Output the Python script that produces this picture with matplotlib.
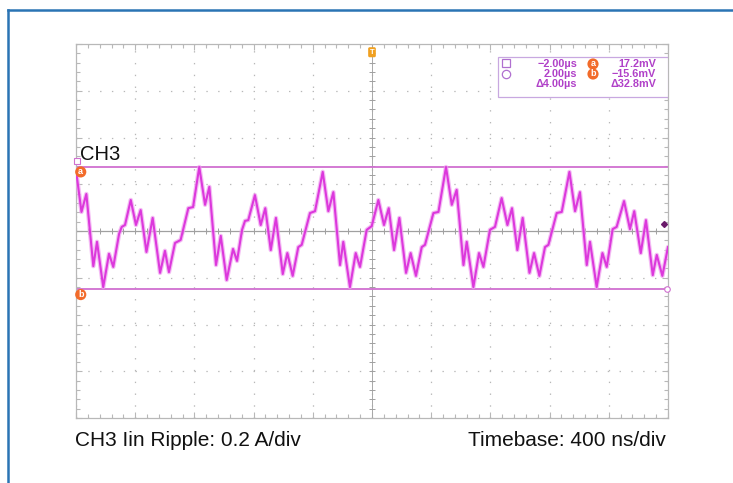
import numpy as np
import matplotlib
matplotlib.use("Agg")
import matplotlib.pyplot as plt
from matplotlib.lines import Line2D
from matplotlib.patches import Rectangle

plt.rcParams['font.family'] = ['Liberation Sans', 'DejaVu Sans']
plt.rcParams['lines.scale_dashes'] = False

## CH3 input current ripple (time in us, level in mV)
t_us = [-2.000, -1.963, -1.930, -1.883, -1.858, -1.816, -1.777, -1.748, -1.709, -1.691,
        -1.669, -1.630, -1.595, -1.563, -1.524, -1.482, -1.432, -1.399, -1.372, -1.331,
        -1.293, -1.241, -1.209, -1.167, -1.128, -1.099, -1.054, -1.022, -0.982, -0.939,
        -0.912, -0.878, -0.858, -0.836, -0.791, -0.752, -0.721, -0.684, -0.649, -0.603,
        -0.572, -0.536, -0.498, -0.475, -0.419, -0.385, -0.333, -0.295, -0.261, -0.216,
        -0.194, -0.149, -0.110, -0.081, -0.036, -0.002, 0.043, 0.081, 0.113, 0.149,
        0.185, 0.230, 0.261, 0.297, 0.336, 0.358, 0.415, 0.449, 0.500, 0.539,
        0.572, 0.618, 0.640, 0.685, 0.723, 0.753, 0.797, 0.831, 0.876, 0.915,
        0.946, 0.982, 1.018, 1.064, 1.095, 1.131, 1.169, 1.192, 1.248, 1.282,
        1.334, 1.372, 1.405, 1.451, 1.473, 1.518, 1.557, 1.586, 1.626, 1.653,
        1.703, 1.743, 1.772, 1.816, 1.851, 1.897, 1.924, 1.962, 2.000]
ch3_mv = [16.3, 5.1, 9.9, -9.4, -2.9, -15.0, -6.1, -9.6, -0.8, 1.1,
          1.6, 8.3, 1.6, 5.6, -5.6, 3.5, -11.2, -5.3, -11.0, -3.2,
          -2.4, 6.1, 6.4, 17.1, 7.0, 11.8, -9.1, -1.3, -13.1, -4.8,
          -8.0, 0.3, 2.7, 2.9, 9.6, 1.6, 6.1, -5.1, 3.5, -11.5,
          -5.9, -12.0, -4.3, -3.7, 4.8, 5.3, 15.8, 5.3, 10.4, -9.1,
          -2.9, -15.0, -5.9, -9.6, 0.3, 1.3, 8.3, 1.6, 6.1, -5.1,
          3.5, -11.2, -5.9, -12.0, -4.3, -3.7, 4.8, 5.1, 17.1, 7.0,
          11.0, -9.1, -2.9, -15.0, -5.9, -9.6, 0.3, 1.1, 8.8, 1.6,
          6.1, -5.1, 3.5, -11.2, -5.9, -12.0, -4.3, -3.7, 4.8, 5.1,
          15.8, 5.3, 10.4, -9.1, -2.9, -15.0, -5.9, -9.6, 0.5, 1.1,
          8.0, 0.5, 5.3, -5.9, 2.9, -11.8, -6.4, -12.0, -4.3]

cursor_a = 17.2   # mV
cursor_b = -15.6  # mV
readout_time = ["\u22122.00\u00b5s", "2.00\u00b5s", "\u03944.00\u00b5s"]
readout_volt = ["17.2mV", "\u221215.6mV", "\u039432.8mV"]

W, H = 733, 483
fig = plt.figure(figsize=(W / 100, H / 100), dpi=100)
ax = fig.add_axes([76 / W, 1 - 418 / H, 592 / W, 374 / H])
ax.set_xlim(-2, 2)
ax.set_ylim(-50, 50)

grid_c = "#b8b8b8"
ax.set_xticks(np.arange(-2, 2.01, 0.4))
ax.set_yticks(np.arange(-50, 50.1, 12.5))
ax.set_xticks(np.arange(-2, 2.01, 0.08), minor=True)
ax.set_yticks(np.arange(-50, 50.1, 2.5), minor=True)
ax.tick_params(which="both", direction="in", top=True, right=True,
               labelbottom=False, labelleft=False, color=grid_c, width=0.8)
ax.tick_params(which="major", length=4)
ax.tick_params(which="minor", length=3)
ax.grid(True, which="major", color=grid_c, linestyle=(0, (1.0, 7.5)), lw=0.9)
for s in ax.spines.values():
    s.set_color(grid_c)
    s.set_linewidth(0.9)

## center axes with small tick marks
ax.axhline(0, color="#a0a0a0", lw=0.9)
ax.axvline(0, color="#a8a8a8", lw=0.7)
ax.plot(np.arange(-2, 2.01, 0.08), np.zeros(51), ls="none", marker="|",
        ms=5, mew=0.7, color="#a0a0a0")
ax.plot(np.zeros(41), np.arange(-50, 50.1, 2.5), ls="none", marker="_",
        ms=5, mew=0.7, color="#a0a0a0")

## cursors
cur_c = "#d070d0"
ax.axhline(cursor_a, color=cur_c, lw=1.3)
ax.axhline(cursor_b, color=cur_c, lw=1.3)

## trace (soft halo + core, like the scope's phosphor look)
ax.plot(t_us, ch3_mv, color="#f0a0f0", lw=3.2, alpha=0.7,
        solid_joinstyle="round", solid_capstyle="round", zorder=4)
ax.plot(t_us, ch3_mv, color="#dc38dc", lw=1.5, solid_joinstyle="round", zorder=5)

orange = "#f26b2a"
for lab, yv in (("a", cursor_a), ("b", cursor_b)):
    ax.text(-1.968, yv - 1.4, lab, color="white", fontsize=6.5, fontweight="bold",
            ha="center", va="center", zorder=6,
            bbox=dict(boxstyle="circle,pad=0.12", fc=orange, ec="none"))
ax.plot([-1.99], [cursor_a + 1.5], marker="s", ms=4, mfc="white", mec=cur_c, mew=0.8,
        clip_on=False, zorder=6)
ax.plot([1.995], [cursor_b], marker="o", ms=4, mfc="white", mec=cur_c, mew=0.8,
        clip_on=False, zorder=6)
ax.plot([1.97], [1.9], marker="D", ms=3, color="#6a1a6a", zorder=6)

## trigger marker
ax.text(0, 47.8, "T", color="white", fontsize=5.5, fontweight="bold", ha="center",
        va="center", zorder=7,
        bbox=dict(boxstyle="round,pad=0.2", fc="#f0a020", ec="none"))

## cursor readout box
bx0, bx1 = (498 - 76) / 592, 1.0
by0, by1 = (418 - 97) / 374, (418 - 57) / 374
ax.add_patch(Rectangle((bx0, by0), bx1 - bx0, by1 - by0, transform=ax.transAxes,
                       fc="white", ec="#c8a8e0", lw=0.9, zorder=8))
txt_c = "#b040c8"
rows_y = [64, 74, 84]
for i, yp in enumerate(rows_y):
    ya = (418 - yp) / 374
    ax.text((577 - 76) / 592, ya, readout_time[i], transform=ax.transAxes, ha="right",
            va="center", fontsize=7.8, fontweight="bold", color=txt_c, zorder=9)
    ax.text((656 - 76) / 592, ya, readout_volt[i], transform=ax.transAxes, ha="right",
            va="center", fontsize=7.8, fontweight="bold", color=txt_c, zorder=9)
ax.plot([(506 - 76) / 592], [(418 - 63) / 374], transform=ax.transAxes, marker="s",
        ms=6, mfc="white", mec="#b070d0", mew=0.9, zorder=9)
ax.plot([(506 - 76) / 592], [(418 - 74) / 374], transform=ax.transAxes, marker="o",
        ms=6, mfc="white", mec="#b070d0", mew=0.9, zorder=9)
for lab, yp in (("a", 64), ("b", 74)):
    ax.text((593 - 76) / 592, (418 - yp) / 374, lab, transform=ax.transAxes,
            color="white", fontsize=6.5, fontweight="bold", ha="center", va="center",
            zorder=9, bbox=dict(boxstyle="circle,pad=0.12", fc=orange, ec="none"))

## labels
fig.text(80 / W, 1 - 160 / H, "CH3", fontsize=14.5, color="#111111", va="baseline")
fig.text(75 / W, 1 - 446 / H, "CH3 Iin Ripple: 0.2 A/div", fontsize=15,
         color="#111111", va="baseline")
fig.text(666 / W, 1 - 446 / H, "Timebase: 400 ns/div", fontsize=15,
         color="#111111", va="baseline", ha="right")

## blue outer border (left and top edges only are in view)
blue = "#2a74b4"
fig.add_artist(Line2D([8 / W, 8 / W], [1 - 10 / H, 0], color=blue, lw=1.8))
fig.add_artist(Line2D([8 / W, 1], [1 - 10 / H, 1 - 10 / H], color=blue, lw=1.8))

fig.savefig("out.png", dpi=100)
